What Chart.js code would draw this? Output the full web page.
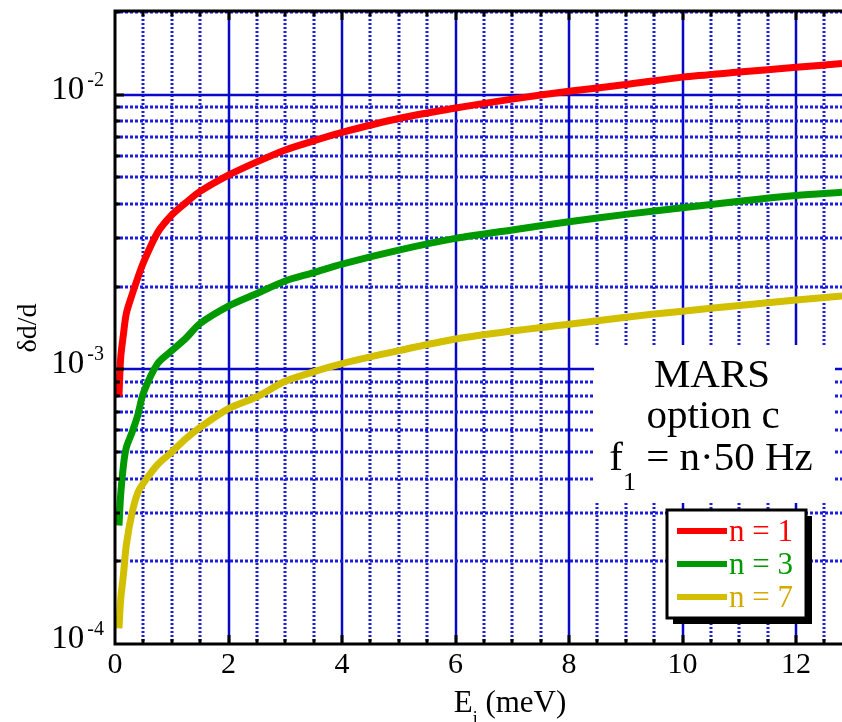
<!DOCTYPE html>
<html>
<head>
<meta charset="utf-8">
<script src="https://cdn.jsdelivr.net/npm/chart.js@4/dist/chart.umd.min.js"></script>
<style>
  html, body { margin: 0; padding: 0; background: #fff; }
</style>
</head>
<body>
<canvas id="chart" width="842" height="722"></canvas>
<script>
// incident energy E_i (meV)
const energies = [0.07, 0.1, 0.15, 0.2, 0.3, 0.4, 0.5, 0.75, 1, 1.25, 1.5, 2, 2.5, 3, 3.5, 4, 5, 6, 7, 8, 9, 10, 11, 12, 12.81];
// resolution dd/d for f1 = n*50 Hz
const dd_n1 = [8.0e-4, 1.1e-3, 1.35e-3, 1.6e-3, 1.87e-3, 2.15e-3, 2.45e-3, 3.15e-3, 3.65e-3, 4.05e-3, 4.45e-3, 5.1e-3, 5.7e-3, 6.3e-3, 6.8e-3, 7.3e-3, 8.2e-3, 8.95e-3, 9.65e-3, 1.03e-2, 1.09e-2, 1.16e-2, 1.21e-2, 1.26e-2, 1.30e-2];
const dd_n3 = [2.7e-4, 3.5e-4, 4.5e-4, 5.2e-4, 5.9e-4, 6.8e-4, 8.2e-4, 1.05e-3, 1.17e-3, 1.3e-3, 1.47e-3, 1.7e-3, 1.89e-3, 2.1e-3, 2.25e-3, 2.42e-3, 2.72e-3, 3.0e-3, 3.22e-3, 3.45e-3, 3.67e-3, 3.88e-3, 4.1e-3, 4.3e-3, 4.42e-3];
const dd_n7 = [1.14e-4, 1.45e-4, 1.8e-4, 2.3e-4, 3.0e-4, 3.55e-4, 3.85e-4, 4.5e-4, 5.0e-4, 5.6e-4, 6.15e-4, 7.2e-4, 7.95e-4, 9.05e-4, 9.8e-4, 1.05e-3, 1.17e-3, 1.29e-3, 1.38e-3, 1.46e-3, 1.55e-3, 1.63e-3, 1.71e-3, 1.79e-3, 1.85e-3];

const seriesLabels = ['n = 1', 'n = 3', 'n = 7'];
const lineColors = ['#ff0000', '#009a00', '#d2c000'];
const textColors = ['#ff0000', '#009a00', '#d4aa00'];

const xTicks = [0, 2, 4, 6, 8, 10, 12];
const yDecades = [-4, -3, -2];

const SERIF = '"Liberation Serif", "DejaVu Serif", serif';
const MAJOR = '#0808c8';
const MINOR = '#1c1cdc';

function pts(ys) {
  return energies.map((e, i) => ({ x: e, y: ys[i] }));
}

const decor = {
  id: 'decor',
  beforeDatasetsDraw(chart) {
    const ctx = chart.ctx;
    const a = chart.chartArea;
    const xs = chart.scales.x, ys = chart.scales.y;
    ctx.save();
    // vertical grid
    for (let v = 0.5; v <= xs.max; v += 0.5) {
      const px = Math.round(xs.getPixelForValue(v));
      const major = v % 2 === 0;
      ctx.beginPath();
      ctx.strokeStyle = major ? MAJOR : MINOR;
      ctx.lineWidth = major ? 2.5 : 3;
      ctx.setLineDash(major ? [] : [2, 2]);
      ctx.moveTo(px, a.top);
      ctx.lineTo(px, a.bottom);
      ctx.stroke();
    }
    // horizontal grid
    for (const d of yDecades) {
      for (let m = 1; m <= 9; m++) {
        const v = m * Math.pow(10, d);
        if (v <= ys.min || v > ys.max) continue;
        const py = Math.round(ys.getPixelForValue(v));
        ctx.beginPath();
        ctx.strokeStyle = m === 1 ? MAJOR : MINOR;
        ctx.lineWidth = m === 1 ? 2.5 : 3;
        ctx.setLineDash(m === 1 ? [] : [3, 2]);
        ctx.moveTo(a.left, py);
        ctx.lineTo(a.right, py);
        ctx.stroke();
      }
    }
    ctx.setLineDash([]);
    // text panel
    ctx.fillStyle = '#fff';
    ctx.fillRect(594, 345, 241, 158);
    ctx.restore();
  },
  afterDatasetsDraw(chart) {
    const ctx = chart.ctx;
    const a = chart.chartArea;
    const xs = chart.scales.x, ys = chart.scales.y;
    ctx.save();
    // frame
    ctx.strokeStyle = '#000';
    ctx.lineWidth = 3;
    ctx.beginPath();
    ctx.moveTo(a.right, a.top);
    ctx.lineTo(a.left, a.top);
    ctx.lineTo(a.left, a.bottom);
    ctx.lineTo(a.right, a.bottom);
    ctx.stroke();
    // x ticks (top and bottom)
    for (let v = 0.5; v <= xs.max; v += 0.5) {
      const px = Math.round(xs.getPixelForValue(v));
      const len = v % 2 === 0 ? 9 : 5;
      ctx.beginPath();
      ctx.moveTo(px, a.bottom);
      ctx.lineTo(px, a.bottom - len);
      ctx.moveTo(px, a.top);
      ctx.lineTo(px, a.top + len);
      ctx.stroke();
    }
    // y ticks
    for (const d of yDecades) {
      for (let m = 1; m <= 9; m++) {
        const v = m * Math.pow(10, d);
        if (v <= ys.min || v > ys.max) continue;
        const py = Math.round(ys.getPixelForValue(v));
        const len = m === 1 ? 9 : 5;
        ctx.beginPath();
        ctx.moveTo(a.left, py);
        ctx.lineTo(a.left + len, py);
        ctx.stroke();
      }
    }
    // x tick labels
    ctx.fillStyle = '#000';
    ctx.font = '30px ' + SERIF;
    ctx.textAlign = 'center';
    ctx.textBaseline = 'alphabetic';
    for (const t of xTicks) {
      ctx.fillText(String(t), xs.getPixelForValue(t), 673);
    }
    // y tick labels 10^n
    for (const d of yDecades) {
      const py = ys.getPixelForValue(Math.pow(10, d));
      const sup = String(d);
      ctx.font = '20px ' + SERIF;
      ctx.textAlign = 'right';
      const sw = ctx.measureText(sup).width;
      ctx.fillText(sup, 104, py - 9);
      ctx.font = '33px ' + SERIF;
      ctx.fillText('10', 104 - sw - 3, py + 4);
    }
    // x title with subscript
    ctx.textAlign = 'left';
    ctx.font = '31px ' + SERIF;
    const e = 'E', rest = ' (meV)';
    const ew = ctx.measureText(e).width;
    ctx.font = '18px ' + SERIF;
    const iw = ctx.measureText('i').width;
    ctx.font = '31px ' + SERIF;
    const rw = ctx.measureText(rest).width;
    let sx = 510 - (ew + iw + rw) / 2;
    ctx.fillText(e, sx, 712);
    ctx.font = '18px ' + SERIF;
    ctx.fillText('i', sx + ew, 724);
    ctx.font = '31px ' + SERIF;
    ctx.fillText(rest, sx + ew + iw, 712);
    // y title
    ctx.save();
    ctx.translate(36, 328);
    ctx.rotate(-Math.PI / 2);
    ctx.textAlign = 'center';
    ctx.font = '28px ' + SERIF;
    ctx.fillText('\u03b4d/d', 0, 0);
    ctx.restore();
    // panel text
    ctx.textAlign = 'center';
    ctx.font = '41px ' + SERIF;
    ctx.fillText('MARS', 712, 387);
    ctx.fillText('option c', 713, 428);
    const f = 'f', fr = ' = n\u00b750 Hz';
    const fw = ctx.measureText(f).width;
    const frw = ctx.measureText(fr).width;
    ctx.font = '26px ' + SERIF;
    const onew = ctx.measureText('1').width;
    ctx.textAlign = 'left';
    let fx = 711 - (fw + onew + frw) / 2;
    ctx.font = '41px ' + SERIF;
    ctx.fillText(f, fx, 470);
    ctx.font = '26px ' + SERIF;
    ctx.fillText('1', fx + fw, 490);
    ctx.font = '41px ' + SERIF;
    ctx.fillText(fr, fx + fw + onew, 470);
    // legend box with shadow
    const bx = 667, by = 510, bw = 139, bh = 108;
    ctx.fillStyle = '#000';
    ctx.fillRect(bx + 6, by + 6, bw, bh);
    ctx.fillStyle = '#fff';
    ctx.fillRect(bx, by, bw, bh);
    ctx.strokeStyle = '#000';
    ctx.lineWidth = 3;
    ctx.strokeRect(bx, by, bw, bh);
    ctx.font = '31px ' + SERIF;
    ctx.textAlign = 'left';
    chart.data.datasets.forEach((ds, i) => {
      const ly = 531 + i * 33;
      ctx.strokeStyle = ds.borderColor;
      ctx.lineWidth = 6;
      ctx.beginPath();
      ctx.moveTo(677, ly);
      ctx.lineTo(727, ly);
      ctx.stroke();
      ctx.fillStyle = textColors[i];
      ctx.fillText(ds.label, 729, ly + 10);
    });
    ctx.restore();
  }
};

new Chart(document.getElementById('chart'), {
  type: 'line',
  data: {
    datasets: [
      { label: seriesLabels[0], data: pts(dd_n1), borderColor: lineColors[0] },
      { label: seriesLabels[1], data: pts(dd_n3), borderColor: lineColors[1] },
      { label: seriesLabels[2], data: pts(dd_n7), borderColor: lineColors[2] }
    ]
  },
  options: {
    responsive: false,
    animation: false,
    layout: { padding: { top: 11, left: 0, right: 0, bottom: 0 } },
    elements: {
      line: { borderWidth: 7, tension: 0.3, fill: false, borderCapStyle: 'butt' },
      point: { radius: 0 }
    },
    scales: {
      x: {
        type: 'linear',
        min: 0,
        max: 12.81,
        ticks: { display: false },
        grid: { display: false },
        border: { display: false },
        afterFit: s => { s.height = 78; }
      },
      y: {
        type: 'logarithmic',
        min: 1e-4,
        max: 0.0202,
        ticks: { display: false },
        grid: { display: false },
        border: { display: false },
        afterFit: s => { s.width = 115; }
      }
    },
    plugins: {
      legend: { display: false },
      tooltip: { enabled: false }
    }
  },
  plugins: [decor]
});
</script>
</body>
</html>
